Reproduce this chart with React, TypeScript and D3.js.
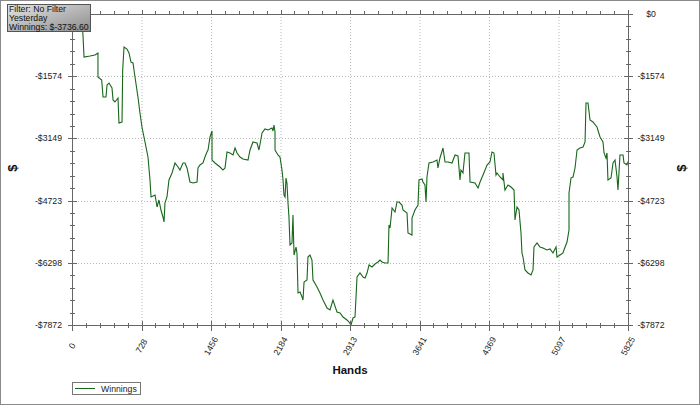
import React from "react";
import * as d3 from "d3";

const hands = [0,42,63,84,105,115,126,189,241,272,272,311,322,325,356,367,388,419,430,450,482,492,524,531,545,576,597,618,639,660,691,712,733,754,775,796,817,828,870,891,911,932,953,964,974,995,1016,1048,1079,1111,1131,1163,1184,1205,1236,1268,1310,1320,1341,1372,1393,1414,1425,1446,1467,1467,1498,1551,1582,1603,1624,1655,1687,1708,1729,1760,1791,1844,1865,1896,1938,1959,1991,2022,2053,2095,2106,2116,2127,2127,2158,2179,2200,2211,2221,2232,2242,2252,2263,2273,2284,2305,2315,2326,2347,2357,2368,2389,2410,2420,2431,2462,2472,2493,2514,2525,2567,2598,2630,2672,2703,2734,2776,2808,2839,2881,2902,2923,2944,2965,2986,3017,3049,3070,3091,3112,3143,3174,3206,3227,3248,3279,3311,3321,3332,3353,3384,3405,3426,3457,3468,3510,3520,3562,3562,3593,3625,3635,3667,3677,3698,3709,3719,3740,3782,3824,3834,3855,3887,3908,3939,3981,4013,4044,4065,4075,4096,4117,4159,4170,4222,4254,4275,4306,4348,4379,4400,4421,4442,4453,4484,4515,4515,4536,4568,4599,4631,4641,4662,4683,4704,4714,4725,4746,4777,4809,4830,4840,4872,4903,4934,4976,5008,5039,5071,5081,5113,5144,5154,5186,5207,5207,5228,5249,5270,5291,5322,5354,5375,5385,5406,5427,5458,5500,5532,5563,5574,5594,5605,5615,5647,5668,5689,5710,5720,5741,5773,5783,5814,5825];

const winnings = [0,-101,-202,-405,-253,-532,-1088,-1063,-1038,-987,-1595,-1671,-2000,-2101,-2101,-1797,-1747,-1873,-2177,-2227,-2126,-2759,-2734,-1417,-835,-886,-987,-1215,-1240,-1595,-2101,-2506,-2860,-3113,-3366,-3620,-4202,-4632,-4581,-4885,-4708,-4961,-5138,-5265,-4784,-4632,-4202,-4025,-3771,-3873,-3949,-3771,-3771,-3898,-4252,-4278,-4252,-3898,-3822,-3771,-3620,-3493,-3442,-3113,-2962,-3696,-3771,-3873,-3949,-3898,-3493,-3518,-3569,-3392,-3518,-3620,-3670,-3696,-3442,-3240,-3265,-3442,-3012,-2911,-2936,-2886,-2962,-2810,-2987,-3442,-3569,-3620,-3949,-4202,-4581,-4632,-4151,-4278,-4784,-5138,-5847,-5796,-5088,-6100,-5898,-6049,-7062,-7037,-7163,-7239,-6783,-6733,-6151,-6100,-6227,-6733,-6910,-7062,-7239,-7442,-7492,-7239,-7543,-7568,-7670,-7745,-7796,-7872,-7695,-7670,-6657,-6556,-6657,-6682,-6556,-6353,-6404,-6328,-6277,-6227,-6277,-6303,-6303,-5341,-5417,-4911,-5012,-4759,-4759,-4835,-4961,-5037,-5543,-5594,-5164,-4961,-4835,-4202,-4177,-4252,-4328,-4759,-4126,-3771,-3746,-3696,-3898,-3645,-3392,-3746,-3746,-3771,-3569,-3594,-4202,-3949,-4025,-3518,-3518,-4252,-4278,-4404,-4252,-4075,-3822,-3746,-3493,-3518,-4075,-4025,-4126,-4202,-4025,-4455,-4328,-4379,-4455,-5214,-4885,-4961,-5543,-6049,-6151,-6480,-6556,-6606,-6480,-5898,-5796,-5898,-5923,-5974,-5948,-6049,-5898,-6151,-6100,-6049,-5974,-5771,-5467,-4531,-4151,-4126,-3898,-3442,-3392,-3366,-3240,-2253,-2253,-2683,-2734,-2860,-3113,-3240,-3518,-3645,-3518,-4202,-4151,-3771,-3696,-4126,-4455,-3569,-3569,-3771,-3822,-3737];

const xTickValues = [0, 728.125, 1456.25, 2184.375, 2912.5, 3640.625, 4368.75, 5096.875, 5825];
const xTickLabels = ["0", "728", "1456", "2184", "2913", "3641", "4369", "5097", "5825"];
const yTickValues = [0, -1574.4, -3148.8, -4723.2, -6297.6, -7872];
const yTickLabels = ["$0", "-$1574", "-$3149", "-$4723", "-$6298", "-$7872"];
const infoLines = ["Filter: No Filter", "Yesterday", "Winnings: $-3736.60"];
const seriesName = "Winnings";

const W = 700, H = 405;
const L = 72, R = 628, T = 14, B = 325;
const FONT = "'Liberation Sans', Arial, sans-serif";
const AX = "#666";
const LINE = "#17661a";

export default function App() {
  const x = d3.scaleLinear().domain([0, 5825]).range([L, R]);
  const y = d3.scaleLinear().domain([-7872, 0]).range([B, T]);
  const pts: [number, number][] = hands.map((h, i) => [h, winnings[i]]);
  const path = d3.line<[number, number]>().x(d => x(d[0])).y(d => y(d[1]))(pts) || "";

  const xMinor: number[] = [];
  for (let i = 0; i < xTickValues.length - 1; i++) {
    const a = xTickValues[i], b = xTickValues[i + 1];
    for (let k = 1; k < 5; k++) xMinor.push(a + (b - a) * k / 5);
  }
  const yMinor: number[] = [];
  for (let i = 0; i < yTickValues.length - 1; i++) {
    const a = yTickValues[i], b = yTickValues[i + 1];
    for (let k = 1; k < 5; k++) yMinor.push(a + (b - a) * k / 5);
  }

  return (
    <svg width={W} height={H} style={{ position: "absolute", left: 0, top: 0 }} fontFamily={FONT}>
      <defs>
        <linearGradient id="ibg" x1="0" y1="0" x2="1" y2="1">
          <stop offset="0" stopColor="#e4e4e4" />
          <stop offset="1" stopColor="#8c8c8c" />
        </linearGradient>
      </defs>
      <rect x={0} y={0} width={W} height={H} fill="#fff" />
      <rect x={0.5} y={0.5} width={W - 1} height={H - 1} fill="none" stroke="#8a8a8a" />

      {/* grid */}
      {xTickValues.slice(1, -1).map((v, i) => (
        <line key={"gx" + i} x1={x(v) + 0.5} x2={x(v) + 0.5} y1={T} y2={B} stroke="#b8b8b8" strokeDasharray="1,2" />
      ))}
      {yTickValues.slice(1, -1).map((v, i) => (
        <line key={"gy" + i} x1={L} x2={R} y1={Math.round(y(v)) + 0.5} y2={Math.round(y(v)) + 0.5} stroke="#b8b8b8" strokeDasharray="1,2" />
      ))}

      {/* series */}
      <path d={path} fill="none" stroke={LINE} strokeWidth={1.1} />

      {/* frame */}
      <rect x={L + 0.5} y={T + 0.5} width={R - L} height={B - T} fill="none" stroke={AX} />

      {/* bottom ticks */}
      {xTickValues.map((v, i) => (
        <line key={"bt" + i} x1={Math.round(x(v)) + 0.5} x2={Math.round(x(v)) + 0.5} y1={B - 4} y2={B + 6} stroke={AX} />
      ))}
      {xMinor.map((v, i) => (
        <line key={"bm" + i} x1={Math.round(x(v)) + 0.5} x2={Math.round(x(v)) + 0.5} y1={B - 2} y2={B + 3} stroke={AX} />
      ))}
      {/* top ticks */}
      {xTickValues.map((v, i) => (
        <line key={"tt" + i} x1={Math.round(x(v)) + 0.5} x2={Math.round(x(v)) + 0.5} y1={T - 4} y2={T + 1} stroke={AX} />
      ))}
      {xMinor.map((v, i) => (
        <line key={"tm" + i} x1={Math.round(x(v)) + 0.5} x2={Math.round(x(v)) + 0.5} y1={T - 3} y2={T + 1} stroke={AX} />
      ))}
      {/* left/right ticks */}
      {yTickValues.map((v, i) => (
        <g key={"yt" + i}>
          <line x1={L - 4} x2={L + 5} y1={Math.round(y(v)) + 0.5} y2={Math.round(y(v)) + 0.5} stroke={AX} />
          <line x1={R - 4} x2={R + 5} y1={Math.round(y(v)) + 0.5} y2={Math.round(y(v)) + 0.5} stroke={AX} />
        </g>
      ))}
      {yMinor.map((v, i) => (
        <g key={"ym" + i}>
          <line x1={L - 2} x2={L + 3} y1={Math.round(y(v)) + 0.5} y2={Math.round(y(v)) + 0.5} stroke={AX} />
          <line x1={R - 2} x2={R + 3} y1={Math.round(y(v)) + 0.5} y2={Math.round(y(v)) + 0.5} stroke={AX} />
        </g>
      ))}

      {/* y labels (left $0 is hidden under the info box in the reference) */}
      {yTickValues.map((v, i) => (
        <g key={"yl" + i} fontSize={8.7} fill="#222">
          {i > 0 && <text x={48.5} y={y(v)} textAnchor="middle" dominantBaseline="central">{yTickLabels[i]}</text>}
          <text x={651} y={y(v)} textAnchor="middle" dominantBaseline="central">{yTickLabels[i]}</text>
        </g>
      ))}
      {/* x labels */}
      {xTickValues.map((v, i) => (
        <text key={"xl" + i} x={x(v)} y={346} fontSize={8.7} fill="#222" textAnchor="middle" dominantBaseline="central"
          transform={`rotate(-60 ${x(v)} 346)`}>{xTickLabels[i]}</text>
      ))}

      {/* axis titles */}
      <text x={350} y={373.5} textAnchor="middle" fontSize={11.5} fontWeight="bold" fill="#111">Hands</text>
      <text x={12} y={168} textAnchor="middle" dominantBaseline="central" fontSize={13} fontWeight="bold" fill="#111"
        transform="rotate(-90 12 168)">$</text>
      <text x={681} y={168} textAnchor="middle" dominantBaseline="central" fontSize={13} fontWeight="bold" fill="#111"
        transform="rotate(-90 681 168)">$</text>

      {/* legend */}
      <rect x={72.5} y={382.5} width={68} height={12} fill="#fff" stroke="#777" />
      <line x1={75} x2={95} y1={388.5} y2={388.5} stroke={LINE} />
      <text x={101} y={388.5} fontSize={8.7} fill="#222" dominantBaseline="central">{seriesName}</text>

      {/* info box */}
      <rect x={7.5} y={4.5} width={83} height={27} fill="url(#ibg)" stroke="#555" />
      {infoLines.map((t, i) => (
        <text key={"il" + i} x={9} y={11.8 + i * 9.2} fontSize={8.7} fill="#111">{t}</text>
      ))}
    </svg>
  );
}
